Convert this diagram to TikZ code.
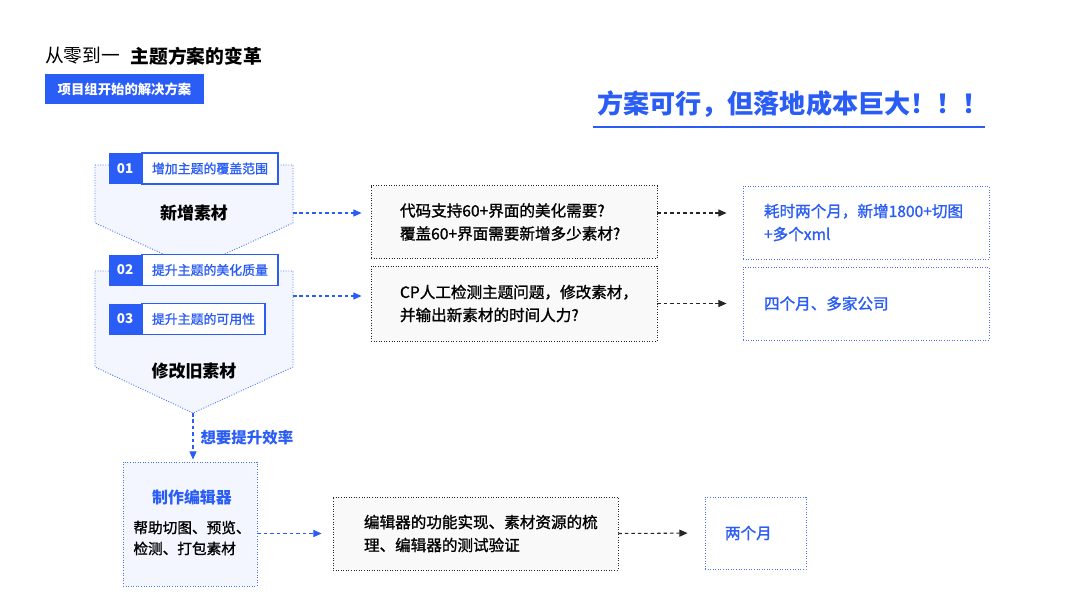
\documentclass[tikz,border=0pt]{standalone}
\usepackage{fontspec}
\setmainfont{Noto Sans CJK SC}
\newfontfamily\midweight{Noto Sans CJK SC}[FakeBold=1.2]
\usepackage{xcolor}
\usetikzlibrary{arrows.meta}
\usetikzlibrary{positioning}

\definecolor{brandblue}{RGB}{42,92,246}
\definecolor{planfill}{RGB}{243,246,254}
\definecolor{askfill}{RGB}{249,249,249}
\newcommand{\pxl}{0.03cm}

\begin{document}
\begin{tikzpicture}[x=0.03cm, y=-0.03cm,
  dotline/.style={line width=0.75pt, dash pattern=on 0.8pt off 1.4pt},
  plan/.style={dotline, draw=brandblue!85, fill=planfill},
  askbox/.style={dotline, draw=black!85, fill=askfill, align=left, inner xsep=29*\pxl, inner ysep=0pt, text width=228*\pxl, minimum height=73*\pxl, font=\fontsize{13.3}{19.6}\selectfont\midweight},
  costbox/.style={dotline, draw=brandblue!85, fill=white, text=brandblue, align=left, inner xsep=21*\pxl, inner ysep=0pt, minimum height=73*\pxl, font=\fontsize{13.3}{19.6}\selectfont\midweight},
  numtag/.style={fill=brandblue, text=white, minimum width=32*\pxl, minimum height=31*\pxl, inner sep=0pt, font=\fontsize{11.5}{11.5}\selectfont\bfseries},
  goaltag/.style={draw=brandblue, line width=1.3pt, fill=white, text=brandblue, minimum height=31*\pxl, inner xsep=10*\pxl, inner ysep=0pt, font=\fontsize{11}{11}\selectfont\midweight},
  blueflow/.style={draw=brandblue, line width=0.9pt, dash pattern=on 3pt off 2.5pt, -{Triangle[length=7pt, width=6pt]}},
  blackflow/.style={draw=black!85, line width=0.9pt, dash pattern=on 3pt off 2.5pt, -{Triangle[length=7pt, width=6pt]}},
]

\useasboundingbox (0,0) rectangle (1080,608);
\fill[white] (0,0) rectangle (1080,608);

% heading
\node[anchor=west, inner sep=0pt, font=\fontsize{16}{16}\selectfont] (titlelead) at (45,56) {从零到一};
\node[right=0.3cm of titlelead, inner sep=0pt, font=\fontsize{16}{16}\selectfont\bfseries] (titlemain) {主题方案的变革};
\node[fill=brandblue, text=white, minimum width=159*\pxl, minimum height=30*\pxl, inner sep=0pt, font=\fontsize{11.4}{11.4}\selectfont\bfseries] (kickoff) at (124.5,89) {项目组开始的解决方案};
\node[text=brandblue, inner sep=0pt, font=\fontsize{22.3}{22.3}\selectfont\bfseries] (verdict) at (793,104) {方案可行，但落地成本巨大！！！};
\path[draw=brandblue, line width=2.2pt] (593,127) -- (985,127);

% the two plans
\path[plan] (95,165) -- (293,165) -- (293,223) -- (194,268) -- (95,223) -- cycle;
\path[plan] (95,271) -- (293,271) -- (293,367) -- (193,413) -- (95,367) -- cycle;
\coordinate (addside) at (293,213);
\coordinate (fixside) at (293,296);
\coordinate (fixtip) at (193,413);

\node[numtag] (n1) at (125,168.5) {01};
\node[goaltag, right=0pt of n1] (g1) {增加主题的覆盖范围};
\node[numtag] (n2) at (125,270) {02};
\node[goaltag, right=0pt of n2] (g2) {提升主题的美化质量};
\node[numtag] (n3) at (125,319) {03};
\node[goaltag, right=0pt of n3] (g3) {提升主题的可用性};

\node[font=\fontsize{14.5}{14.5}\selectfont\bfseries] (addlabel) at (194,213) {新增素材};
\node[font=\fontsize{14.5}{14.5}\selectfont\bfseries] (fixlabel) at (194,371) {修改旧素材};

% questions and costs
\node[askbox] (ask1) at (514,222) {代码支持60+界面的美化需要?\\覆盖60+界面需要新增多少素材?};
\node[askbox, minimum height=75*\pxl] (ask2) at (514,303.5) {CP人工检测主题问题，修改素材，\\并输出新素材的时间人力?};
\node[costbox, text width=204*\pxl] (cost1) at (866,222.5) {耗时两个月，新增1800+切图\\+多个xml};
\node[costbox, text width=204*\pxl] (cost2) at (866,303.5) {四个月、多家公司};

\path[blueflow, shorten >=9*\pxl] (addside) -- (addside -| ask1.west);
\path[blueflow, shorten >=9*\pxl] (fixside) -- (fixside -| ask2.west);
\path[blackflow, shorten >=16*\pxl] (ask1.east |- addside) -- (cost1.west |- addside);
\path[blackflow, shorten >=16*\pxl] (ask2.east) -- (cost2.west);

% editor
\node[plan, minimum width=134*\pxl, minimum height=124*\pxl] (editor) at (190,524) {};
\node[text=brandblue, font=\fontsize{13.6}{13.6}\selectfont\bfseries] (editorname) at (192,497) {制作编辑器};
\node[align=left, font=\fontsize{12.5}{17.9}\selectfont\midweight] (editorjob) at (192,538) {帮助切图、预览、\\检测、打包素材};
\path[blueflow, shorten >=2*\pxl] (fixtip) -- node[right=7*\pxl, inner sep=0pt, text=brandblue, font=\fontsize{13.2}{13.2}\selectfont\bfseries] (speedup) {想要提升效率} (fixtip |- editor.north);

\node[askbox, inner xsep=31*\pxl, text width=223*\pxl] (ask3) at (475.5,533.5) {编辑器的功能实现、素材资源的梳\\理、编辑器的测试验证};
\node[costbox, inner xsep=20*\pxl, text width=61*\pxl, minimum height=72*\pxl] (cost3) at (755.5,533) {两个月};

\path[blueflow, shorten >=11*\pxl] (editor.east |- ask3.west) -- (ask3.west);
\path[blackflow, shorten >=17*\pxl] (ask3.east) -- (cost3.west);

\end{tikzpicture}
\end{document}
